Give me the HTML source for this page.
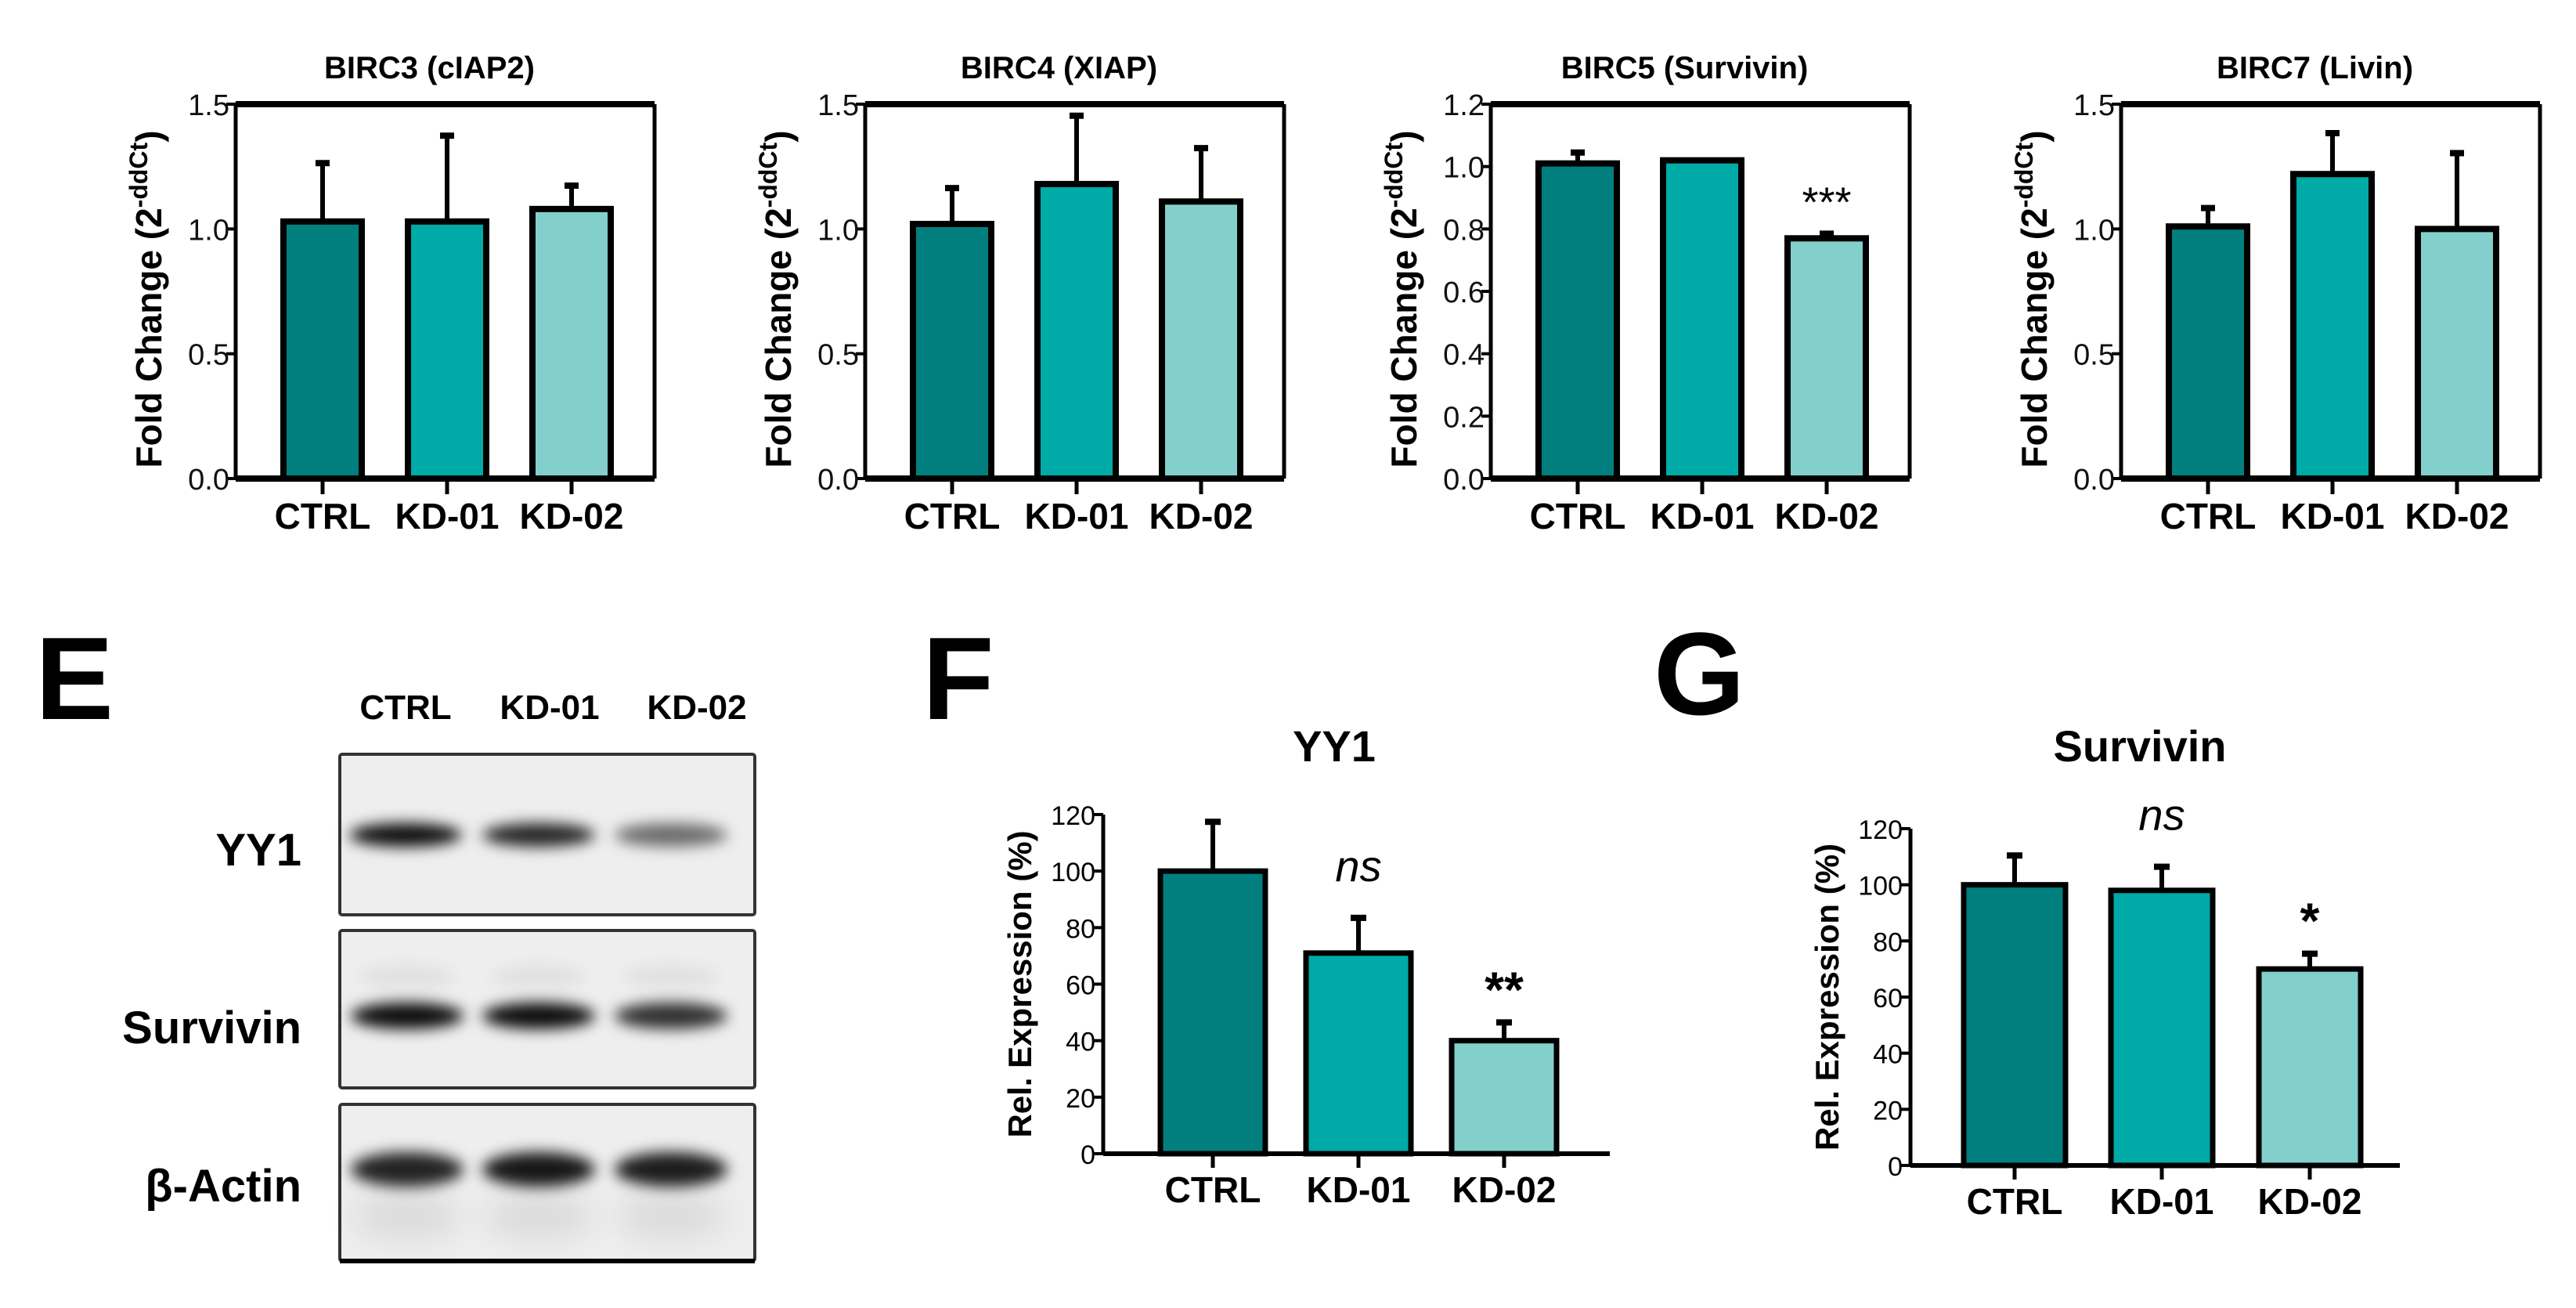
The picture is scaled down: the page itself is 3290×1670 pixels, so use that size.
<!DOCTYPE html>
<html><head><meta charset="utf-8">
<style>
html,body{margin:0;padding:0;background:#fff;}
svg{display:block;}
text{font-family:"Liberation Sans Narrow","Liberation Sans",sans-serif;}
.w{font-family:"Liberation Sans",sans-serif;}
</style></head>
<body>
<svg id="fig" width="3290" height="1670" viewBox="0 0 3290 1670" xmlns="http://www.w3.org/2000/svg">
<defs>
<filter id="blur" x="-20%" y="-100%" width="140%" height="300%"><feGaussianBlur stdDeviation="9"/></filter>
<filter id="blur2" x="-20%" y="-100%" width="140%" height="300%"><feGaussianBlur stdDeviation="18"/></filter>
</defs>
<g id="root"></g>
</svg>
<script>
// ---------- data ----------
const categories = ["CTRL","KD-01","KD-02"];
const colors = ["#017f7f","#00aaa7","#82cfcb"];
const qpcrTitles = ["BIRC3 (cIAP2)","BIRC4 (XIAP)","BIRC5 (Survivin)","BIRC7 (Livin)"];
const qpcrMax = [1.5,1.5,1.2,1.5];
const qpcrTicks = [["0.0","0.5","1.0","1.5"],["0.0","0.5","1.0","1.5"],["0.0","0.2","0.4","0.6","0.8","1.0","1.2"],["0.0","0.5","1.0","1.5"]];
const birc3Values = [1.03,1.03,1.08];
const birc3Errors = [1.27,1.38,1.18];
const birc4Values = [1.02,1.18,1.11];
const birc4Errors = [1.17,1.46,1.33];
const birc5Values = [1.01,1.02,0.77];
const birc5Errors = [1.05,1.02,0.79];
const birc7Values = [1.01,1.22,1.00];
const birc7Errors = [1.09,1.39,1.31];
const birc5Sig = ["","","***"];
const yy1Values = [100,71,40];
const yy1Errors = [118,84,47];
const yy1Sig = ["","ns","**"];
const survValues = [100,98,70];
const survErrors = [111,107,76];
const survSig = ["","ns","*"];
const relTicks = [0,20,40,60,80,100,120];

const NS="http://www.w3.org/2000/svg";
const root=document.getElementById('root');
function el(tag,attrs,parent,txt){const e=document.createElementNS(NS,tag);for(const k in attrs)e.setAttribute(k,attrs[k]);if(txt!==undefined)e.textContent=txt;(parent||root).appendChild(e);return e;}

// ---------- qPCR charts ----------
const qVals=[birc3Values,birc4Values,birc5Values,birc7Values];
const qErrs=[birc3Errors,birc4Errors,birc5Errors,birc7Errors];
const qSig=[null,null,birc5Sig,null];
const axisX=[301,1105,1904,2709];
const top0=133,bot0=611,plotW=535;
for(let c=0;c<4;c++){
  const g=el('g',{});
  
  
  const ax=axisX[c];
  const y=v=>bot0-(v/qpcrMax[c])*(bot0-top0);
  const xc=i=>ax+111+159*i;
  const t=el('text',{x:ax+plotW/2-20,y:100,'font-size':40,'font-weight':'bold','text-anchor':'middle'},g,qpcrTitles[c]);
  
  
  // bars
  for(let i=0;i<3;i++){
    const v=qVals[c][i],e=qErrs[c][i];
    const ln=el('line',{x1:xc(i),x2:xc(i),y1:y(v),y2:y(e),stroke:'#000','stroke-width':6},g);
    
    
    el('line',{x1:xc(i)-9,x2:xc(i)+9,y1:y(e)+2,y2:y(e)+2,stroke:'#000','stroke-width':8},g);
    const r=el('rect',{x:xc(i)-50,y:y(v),width:100,height:bot0-y(v),fill:colors[i],stroke:'#000','stroke-width':8},g);
    
    
    el('line',{x1:xc(i),x2:xc(i),y1:bot0,y2:bot0+20,stroke:'#000','stroke-width':5},g);
    const xl=el('text',{x:xc(i),y:675,'font-size':46,'font-weight':'bold','text-anchor':'middle'},g,categories[i]);
    
    
    if(qSig[c]&&qSig[c][i]){
      const s=el('text',{x:xc(i),y:y(e)-20,'font-size':54,'text-anchor':'middle',class:'w'},g,qSig[c][i]);
      
      
    }
  }
  // box
  el('line',{x1:ax,x2:ax+plotW,y1:top0,y2:top0,stroke:'#000','stroke-width':8},g);
  el('line',{x1:ax,x2:ax+plotW,y1:bot0,y2:bot0,stroke:'#000','stroke-width':8},g);
  el('line',{x1:ax,x2:ax,y1:top0,y2:bot0,stroke:'#000','stroke-width':5},g);
  el('line',{x1:ax+plotW,x2:ax+plotW,y1:top0,y2:bot0,stroke:'#000','stroke-width':5},g);
  qpcrTicks[c].forEach(tk=>{
    const yy=y(parseFloat(tk));
    el('line',{x1:ax-12,x2:ax,y1:yy,y2:yy,stroke:'#000','stroke-width':4},g);
    const tl=el('text',{x:ax-8,y:yy+14,'font-size':38,'text-anchor':'end',fill:'#111'},g,tk);
    
    
  });
  const yt=el('text',{transform:`translate(${ax-95},${(top0+bot0)/2+10}) rotate(-90)`,'font-size':46,'font-weight':'bold','text-anchor':'middle',class:'w'},g);
  
  
  el('tspan',{},yt,'Fold Change (2');
  el('tspan',{dy:-18,'font-size':32},yt,'-ddCt');
  el('tspan',{dy:18},yt,')');
}

// ---------- Panel letters ----------
[['E',45,918],['F',1178,918],['G',2112,912]].forEach(([l,x,yy])=>{
  const t=el('text',{x:x,y:yy,'font-size':150,'font-weight':'bold',class:'w'},root,l);
  
  
});

// ---------- Western blot ----------
const wb=el('g',{});


const laneX=[518,702,890];
categories.forEach((c,i)=>{
  const t=el('text',{x:laneX[i],y:918,'font-size':44,'font-weight':'bold','text-anchor':'middle'},wb,c);
  
  
});
const boxes=[[963,1168,'YY1',1085],[1188,1389,'Survivin',1312],[1410,1610,'β-Actin',1514]];
const bandCenters=[[518,688,857],[520,688,857],[520,688,857]];
const bandDark=[[0.95,0.85,0.55],[0.95,0.95,0.8],[0.85,0.9,0.88]];
const bandY=[1066,1297,1493];
const bandH=[30,34,44];
boxes.forEach((b,k)=>{
  const r=el('rect',{x:434,y:b[0],width:530,height:b[1]-b[0],fill:'#eeeeee',stroke:'#333','stroke-width':4,rx:3},wb);
  
  
  for(let i=0;i<3;i++){
    el('ellipse',{cx:bandCenters[k][i],cy:bandY[k],rx:72,ry:bandH[k]/2,fill:'#000','fill-opacity':bandDark[k][i],filter:'url(#blur)'},wb);
    if(k==2) el('ellipse',{cx:bandCenters[k][i],cy:bandY[k]+60,rx:70,ry:30,fill:'#000','fill-opacity':0.08,filter:'url(#blur2)'},wb);
    if(k==1) el('ellipse',{cx:bandCenters[k][i],cy:bandY[k]-50,rx:60,ry:14,fill:'#000','fill-opacity':0.06,filter:'url(#blur)'},wb);
  }
  const t=el('text',{x:385,y:b[3]+20,'font-size':58,'font-weight':'bold','text-anchor':'end'},wb,b[2]);
  
  
});
el('line',{x1:434,x2:964,y1:1610,y2:1610,stroke:'#000','stroke-width':6},wb);

// ---------- F and G charts ----------
function relChart(name,title,vals,errs,sig,ax,yTop,yBot,right,cx,bw,titleX,labY){
  const g=el('g',{});
  
  
  const y=v=>yBot-(v/120)*(yBot-yTop);
  const t=el('text',{x:titleX,y:972,'font-size':56,'font-weight':'bold','text-anchor':'middle',class:'w'},g,title);
  
  
  for(let i=0;i<3;i++){
    const x=cx[i];
    el('line',{x1:x,x2:x,y1:y(vals[i]),y2:y(errs[i]),stroke:'#000','stroke-width':6},g);
    el('line',{x1:x-10,x2:x+10,y1:y(errs[i])+2,y2:y(errs[i])+2,stroke:'#000','stroke-width':8},g);
    const r=el('rect',{x:x-bw/2,y:y(vals[i]),width:bw,height:yBot-y(vals[i]),fill:colors[i],stroke:'#000','stroke-width':7},g);
    
    
    el('line',{x1:x,x2:x,y1:yBot,y2:yBot+18,stroke:'#000','stroke-width':5},g);
    const xl=el('text',{x:x,y:labY,'font-size':46,'font-weight':'bold','text-anchor':'middle'},g,categories[i]);
    
    
    if(sig[i]){
      const isNs=sig[i]==='ns';
      const s=el('text',{x:x,y:isNs?y(errs[i])-45:y(errs[i])-18,'font-size':isNs?56:64,'font-style':isNs?'italic':'normal','font-weight':isNs?'normal':'bold','text-anchor':'middle',class:'w'},g,sig[i]);
      
      
    }
  }
  el('line',{x1:ax,x2:right,y1:yBot,y2:yBot,stroke:'#000','stroke-width':6},g);
  el('line',{x1:ax,x2:ax,y1:yTop,y2:yBot,stroke:'#000','stroke-width':5},g);
  relTicks.forEach(tk=>{
    const yy=y(tk);
    el('line',{x1:ax-12,x2:ax,y1:yy,y2:yy,stroke:'#000','stroke-width':4},g);
    const tl=el('text',{x:ax-10,y:yy+13,'font-size':34,'text-anchor':'end'},g,String(tk));
    
    
  });
  const yt=el('text',{transform:`translate(${ax-92},${(yTop+yBot)/2}) rotate(-90)`,'font-size':42,'font-weight':'bold','text-anchor':'middle',class:'w'},g,'Rel. Expression (%)');
  
  
}
relChart('yy1-chart','YY1',yy1Values,yy1Errors,yy1Sig,1409,1040,1473,2056,[1549,1735,1921],134,1704,1535);
relChart('survivin-chart','Survivin',survValues,survErrors,survSig,2440,1058,1488,3065,[2573,2761,2950],130,2733,1550);
</script>
</body></html>
